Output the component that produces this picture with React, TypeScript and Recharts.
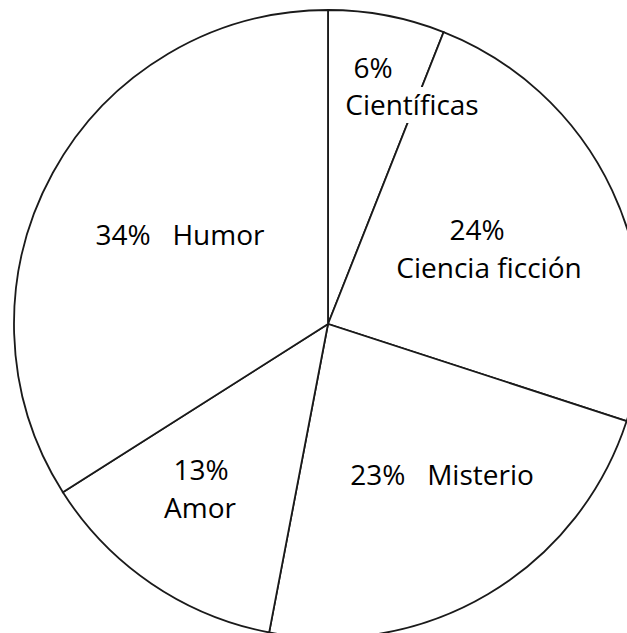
import React from 'react';
import { PieChart, Pie, Cell } from 'recharts';

const categories = ['Científicas', 'Ciencia ficción', 'Misterio', 'Amor', 'Humor'];
const percentages = [6, 24, 23, 13, 34];

const data = categories.map((name, i) => ({ name, value: percentages[i] }));

// Label layout (offsets from pie centre), 'split' = percentage and name on two lines,
// 'bg' = label box painted white over the slice border (width of box)
const labelLayout = [
  { split: true, p: [45, -256], n: [84, -219], bg: 140 },
  { split: true, p: [149, -94], n: [161, -56], bg: 0 },
  { split: false, p: [114, 151], n: [0, 0], bg: 0 },
  { split: true, p: [-127, 146], n: [-128, 184], bg: 0 },
  { split: false, p: [-148, -89], n: [0, 0], bg: 0 },
];

const FONT = '"Open Sans", sans-serif';
const FS = 28;
const BASE = FS * 0.36;

const renderLabel = (props: any) => {
  const { cx, cy, index, name, value } = props;
  const lay = labelLayout[index];
  const common = {
    fontFamily: FONT,
    fontSize: FS,
    fill: '#000',
    textAnchor: 'middle' as const,
    style: { whiteSpace: 'pre' as const },
  };
  if (lay.split) {
    return (
      <g key={`lbl-${index}`}>
        {lay.bg > 0 && (
          <rect
            x={cx + lay.n[0] - lay.bg / 2}
            y={cy + lay.n[1] - 18}
            width={lay.bg}
            height={36}
            fill="#fff"
          />
        )}
        <text x={cx + lay.p[0]} y={cy + lay.p[1] + BASE} {...common}>{`${value}%`}</text>
        <text x={cx + lay.n[0]} y={cy + lay.n[1] + BASE} {...common}>{name}</text>
      </g>
    );
  }
  return (
    <g key={`lbl-${index}`}>
      <text x={cx + lay.p[0]} y={cy + lay.p[1] + BASE} {...common}>{`${value}%   ${name}`}</text>
    </g>
  );
};

export default function App() {
  return (
    <div style={{ position: 'absolute', left: 0, top: 0, width: 627, height: 633, background: '#fff' }}>
      <PieChart width={627} height={633} margin={{ top: 0, right: 0, bottom: 0, left: 0 }}>
        <Pie
          data={data}
          dataKey="value"
          nameKey="name"
          cx={328}
          cy={324}
          outerRadius={314}
          startAngle={90}
          endAngle={-270}
          stroke="#1a1a1a"
          strokeWidth={1.8}
          label={renderLabel}
          labelLine={false}
          isAnimationActive={false}
        >
          {data.map((d, i) => (
            <Cell key={`c-${i}`} fill="#ffffff" stroke="#1a1a1a" strokeWidth={1.8} />
          ))}
        </Pie>
      </PieChart>
    </div>
  );
}
